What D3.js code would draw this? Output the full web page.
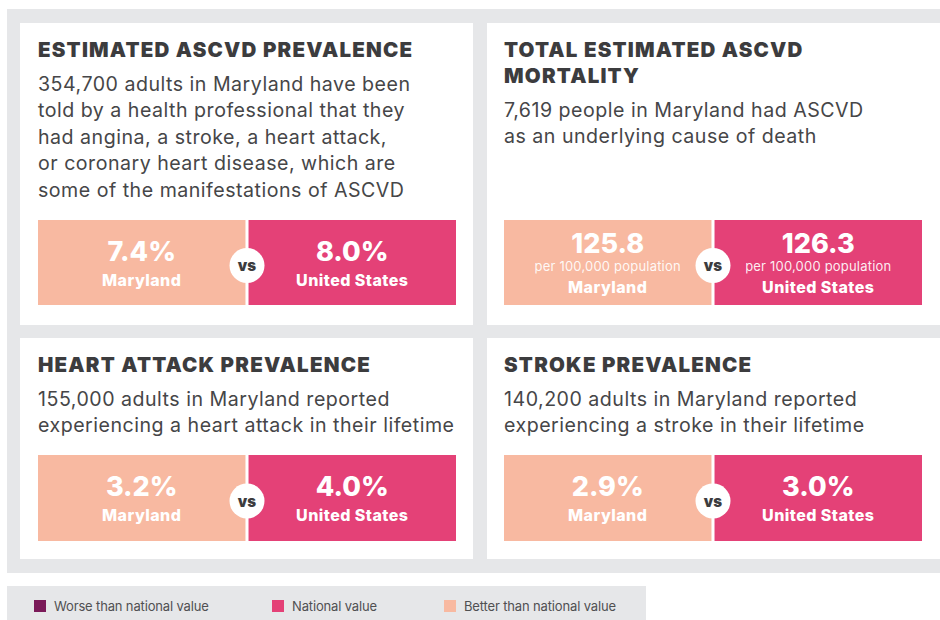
<!DOCTYPE html>
<html>
<head>
<meta charset="utf-8">
<script src="https://cdn.jsdelivr.net/npm/d3@7"></script>
<style>
  html, body { margin: 0; padding: 0; background: #ffffff; }
  svg { display: block; }
  text { font-family: Inter, "Noto Sans", sans-serif; }
</style>
</head>
<body>
<svg id="chart" width="940" height="620"></svg>
<script>
// ---------- DATA ----------
const panelTitles = [
  ["ESTIMATED ASCVD PREVALENCE"],
  ["TOTAL ESTIMATED ASCVD", "MORTALITY"],
  ["HEART ATTACK PREVALENCE"],
  ["STROKE PREVALENCE"]
];
const panelDescriptions = [
  ["354,700 adults in Maryland have been", "told by a health professional that they", "had angina, a stroke, a heart attack,", "or coronary heart disease, which are", "some of the manifestations of ASCVD"],
  ["7,619 people in Maryland had ASCVD", "as an underlying cause of death"],
  ["155,000 adults in Maryland reported", "experiencing a heart attack in their lifetime"],
  ["140,200 adults in Maryland reported", "experiencing a stroke in their lifetime"]
];
const marylandValues = ["7.4%", "125.8", "3.2%", "2.9%"];
const usValues = ["8.0%", "126.3", "4.0%", "3.0%"];
const valueSubLabels = ["", "per 100,000 population", "", ""];
const comparisonStatus = ["Better", "Better", "Better", "Better"];
const regionLabels = ["Maryland", "United States"];
const legendLabels = ["Worse than national value", "National value", "Better than national value"];
const legendKeys = ["Worse", "National", "Better"];

// ---------- STYLE ----------
const colorScale = d3.scaleOrdinal()
  .domain(["Worse", "National", "Better"])
  .range(["#7b1a59", "#e44177", "#f8b9a1"]);
const GRAY = "#e6e7e9";
const TITLE_COLOR = "#3c3c3e";
const BODY_COLOR = "#464648";

const svg = d3.select("#chart");

// background gray block
svg.append("rect").attr("x", 7).attr("y", 9).attr("width", 940).attr("height", 564).attr("fill", GRAY);

// panel layout scales
const colX = d3.scaleOrdinal().domain([0, 1]).range([20, 487]);
const rowY = d3.scaleOrdinal().domain([0, 1]).range([23, 338]);
const rowH = d3.scaleOrdinal().domain([0, 1]).range([302, 221]);
const boxTop = d3.scaleOrdinal().domain([0, 1]).range([197, 117]);
const panelW = 453;

const boxX = d3.scaleBand().domain(regionLabels).range([18, 436]).paddingInner(0.0145);

const panels = panelTitles.map((t, i) => ({
  i, col: i % 2, row: Math.floor(i / 2),
  title: t, desc: panelDescriptions[i],
  md: marylandValues[i], us: usValues[i], sub: valueSubLabels[i],
  status: comparisonStatus[i]
}));

const g = svg.selectAll("g.panel").data(panels).join("g")
  .attr("class", "panel")
  .attr("transform", d => `translate(${colX(d.col)},${rowY(d.row)})`);

g.append("rect")
  .attr("width", d => d.col === 1 ? 940 - colX(1) : panelW)
  .attr("height", d => rowH(d.row))
  .attr("fill", "#ffffff");

// titles
g.each(function(d) {
  const gg = d3.select(this);
  const tx = d.col === 0 ? 18 : 17;
  d.title.forEach((line, k) => {
    gg.append("text")
      .attr("x", tx).attr("y", 34 + k * 26)
      .attr("font-size", 20.5).attr("font-weight", 900)
      .attr("letter-spacing", 1.2)
      .attr("fill", TITLE_COLOR)
      .text(line);
  });
  const descStart = 34 + (d.title.length - 1) * 26 + 33.5;
  d.desc.forEach((line, k) => {
    gg.append("text")
      .attr("x", tx).attr("y", descStart + k * 26.6)
      .attr("font-size", 19.6).attr("font-weight", 400)
      .attr("letter-spacing", 0.5)
      .attr("fill", BODY_COLOR)
      .text(line);
  });

  // boxes
  const by = boxTop(d.row);
  const bh = d.row === 0 ? 85 : 86;
  const vals = [d.md, d.us];
  const fills = [colorScale(d.status), colorScale("National")];
  regionLabels.forEach((r, k) => {
    const bx = boxX(r) - (d.col === 1 ? 1 : 0);
    gg.append("rect")
      .attr("x", bx).attr("y", by)
      .attr("width", boxX.bandwidth()).attr("height", bh)
      .attr("fill", fills[k]);
    const cx = bx + boxX.bandwidth() / 2;
    if (d.sub) {
      gg.append("text").attr("x", cx).attr("y", by + 33)
        .attr("text-anchor", "middle").attr("font-size", 27).attr("font-weight", 800)
        .attr("fill", "#fff").text(vals[k]);
      gg.append("text").attr("x", cx).attr("y", by + 51)
        .attr("text-anchor", "middle").attr("font-size", 13).attr("font-weight", 400)
        .attr("letter-spacing", 0.2)
        .attr("fill", "#fff").attr("fill-opacity", 0.92).text(d.sub);
      gg.append("text").attr("x", cx).attr("y", by + 73)
        .attr("text-anchor", "middle").attr("font-size", 16).attr("font-weight", 800)
        .attr("letter-spacing", 0.45)
        .attr("fill", "#fff").text(r);
    } else {
      gg.append("text").attr("x", cx).attr("y", by + 41)
        .attr("text-anchor", "middle").attr("font-size", 27).attr("font-weight", 800)
        .attr("fill", "#fff").text(vals[k]);
      gg.append("text").attr("x", cx).attr("y", by + 66)
        .attr("text-anchor", "middle").attr("font-size", 16).attr("font-weight", 800)
        .attr("letter-spacing", 0.45)
        .attr("fill", "#fff").text(r);
    }
  });
  // vs circle
  const vx = (boxX(regionLabels[0]) + boxX.bandwidth() + boxX(regionLabels[1])) / 2 - (d.col === 1 ? 1 : 0);
  gg.append("circle").attr("cx", vx).attr("cy", by + bh / 2 + 3).attr("r", 17.5).attr("fill", "#fff");
  gg.append("text").attr("x", vx).attr("y", by + bh / 2 + 8.5)
    .attr("text-anchor", "middle").attr("font-size", 15).attr("font-weight", 900)
    .attr("fill", TITLE_COLOR).text("vs");
});

// legend
svg.append("rect").attr("x", 7).attr("y", 586).attr("width", 639).attr("height", 40).attr("fill", GRAY);
const legX = d3.scaleOrdinal().domain(legendKeys).range([34, 272, 444]);
const lg = svg.selectAll("g.leg").data(legendKeys).join("g")
  .attr("class", "leg")
  .attr("transform", d => `translate(${legX(d)},600)`);
lg.append("rect").attr("width", 12).attr("height", 12).attr("fill", d => colorScale(d));
lg.append("text").attr("x", 20).attr("y", 10.5)
  .attr("font-size", 13).attr("letter-spacing", -0.15).attr("fill", "#505052")
  .text((d, i) => legendLabels[i]);
</script>
</body>
</html>
